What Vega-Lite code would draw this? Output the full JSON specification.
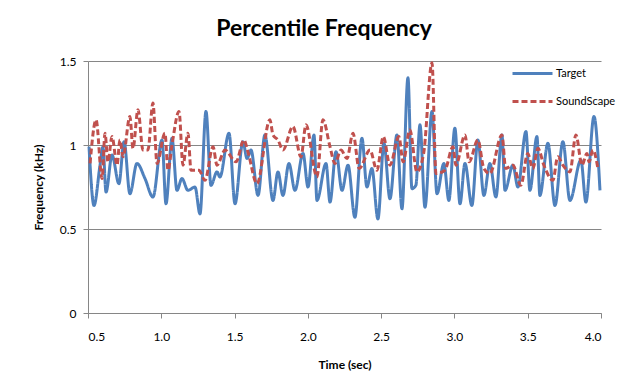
{
  "$schema": "https://vega.github.io/schema/vega-lite/v6.json",
  "autosize": "none",
  "width": 513,
  "height": 252,
  "padding": {"left": 88, "top": 61, "right": 36, "bottom": 68},
  "background": "white",
  "title": {"text": "Percentile Frequency", "font": "Lato", "fontSize": 23, "fontWeight": "bold", "color": "#000000", "anchor": "middle", "frame": "bounds", "offset": 11},
  "config": {"view": {"stroke": null}},
  "data": {"values": [
    {"t": 0.507, "v": 0.99, "series": "Target"},
    {"t": 0.541, "v": 0.64, "series": "Target"},
    {"t": 0.582, "v": 0.88, "series": "Target"},
    {"t": 0.602, "v": 0.99, "series": "Target"},
    {"t": 0.623, "v": 0.72, "series": "Target"},
    {"t": 0.664, "v": 0.94, "series": "Target"},
    {"t": 0.711, "v": 0.77, "series": "Target"},
    {"t": 0.746, "v": 1.02, "series": "Target"},
    {"t": 0.786, "v": 0.71, "series": "Target"},
    {"t": 0.834, "v": 0.89, "series": "Target"},
    {"t": 0.889, "v": 0.80, "series": "Target"},
    {"t": 0.943, "v": 0.69, "series": "Target"},
    {"t": 1.005, "v": 1.03, "series": "Target"},
    {"t": 1.032, "v": 0.65, "series": "Target"},
    {"t": 1.073, "v": 1.04, "series": "Target"},
    {"t": 1.107, "v": 0.73, "series": "Target"},
    {"t": 1.141, "v": 0.80, "series": "Target"},
    {"t": 1.182, "v": 0.73, "series": "Target"},
    {"t": 1.230, "v": 0.75, "series": "Target"},
    {"t": 1.264, "v": 0.59, "series": "Target"},
    {"t": 1.305, "v": 1.20, "series": "Target"},
    {"t": 1.339, "v": 0.76, "series": "Target"},
    {"t": 1.380, "v": 0.84, "series": "Target"},
    {"t": 1.400, "v": 0.81, "series": "Target"},
    {"t": 1.462, "v": 1.07, "series": "Target"},
    {"t": 1.503, "v": 0.65, "series": "Target"},
    {"t": 1.557, "v": 1.02, "series": "Target"},
    {"t": 1.585, "v": 0.92, "series": "Target"},
    {"t": 1.612, "v": 0.97, "series": "Target"},
    {"t": 1.660, "v": 0.70, "series": "Target"},
    {"t": 1.707, "v": 1.06, "series": "Target"},
    {"t": 1.762, "v": 0.67, "series": "Target"},
    {"t": 1.796, "v": 0.84, "series": "Target"},
    {"t": 1.830, "v": 0.70, "series": "Target"},
    {"t": 1.871, "v": 0.89, "series": "Target"},
    {"t": 1.912, "v": 0.73, "series": "Target"},
    {"t": 1.967, "v": 0.95, "series": "Target"},
    {"t": 2.001, "v": 0.75, "series": "Target"},
    {"t": 2.042, "v": 1.06, "series": "Target"},
    {"t": 2.062, "v": 0.67, "series": "Target"},
    {"t": 2.124, "v": 0.89, "series": "Target"},
    {"t": 2.151, "v": 0.66, "series": "Target"},
    {"t": 2.192, "v": 0.96, "series": "Target"},
    {"t": 2.233, "v": 0.73, "series": "Target"},
    {"t": 2.274, "v": 0.88, "series": "Target"},
    {"t": 2.321, "v": 0.57, "series": "Target"},
    {"t": 2.369, "v": 1.04, "series": "Target"},
    {"t": 2.403, "v": 0.75, "series": "Target"},
    {"t": 2.437, "v": 0.86, "series": "Target"},
    {"t": 2.478, "v": 0.56, "series": "Target"},
    {"t": 2.519, "v": 1.01, "series": "Target"},
    {"t": 2.560, "v": 0.68, "series": "Target"},
    {"t": 2.608, "v": 1.06, "series": "Target"},
    {"t": 2.642, "v": 0.62, "series": "Target"},
    {"t": 2.683, "v": 1.40, "series": "Target"},
    {"t": 2.710, "v": 0.74, "series": "Target"},
    {"t": 2.737, "v": 0.76, "series": "Target"},
    {"t": 2.765, "v": 1.12, "series": "Target"},
    {"t": 2.799, "v": 0.63, "series": "Target"},
    {"t": 2.847, "v": 1.20, "series": "Target"},
    {"t": 2.881, "v": 0.71, "series": "Target"},
    {"t": 2.928, "v": 0.89, "series": "Target"},
    {"t": 2.962, "v": 0.67, "series": "Target"},
    {"t": 3.003, "v": 1.10, "series": "Target"},
    {"t": 3.038, "v": 0.65, "series": "Target"},
    {"t": 3.072, "v": 0.89, "series": "Target"},
    {"t": 3.119, "v": 0.64, "series": "Target"},
    {"t": 3.160, "v": 1.03, "series": "Target"},
    {"t": 3.201, "v": 0.70, "series": "Target"},
    {"t": 3.242, "v": 0.89, "series": "Target"},
    {"t": 3.283, "v": 0.69, "series": "Target"},
    {"t": 3.324, "v": 1.06, "series": "Target"},
    {"t": 3.345, "v": 0.73, "series": "Target"},
    {"t": 3.399, "v": 0.88, "series": "Target"},
    {"t": 3.433, "v": 0.75, "series": "Target"},
    {"t": 3.488, "v": 1.08, "series": "Target"},
    {"t": 3.515, "v": 0.73, "series": "Target"},
    {"t": 3.563, "v": 1.05, "series": "Target"},
    {"t": 3.583, "v": 0.70, "series": "Target"},
    {"t": 3.638, "v": 1.01, "series": "Target"},
    {"t": 3.686, "v": 0.64, "series": "Target"},
    {"t": 3.740, "v": 1.02, "series": "Target"},
    {"t": 3.788, "v": 0.67, "series": "Target"},
    {"t": 3.863, "v": 0.91, "series": "Target"},
    {"t": 3.897, "v": 0.66, "series": "Target"},
    {"t": 3.952, "v": 1.17, "series": "Target"},
    {"t": 3.993, "v": 0.73, "series": "Target"},
    {"t": 0.514, "v": 0.89, "series": "SoundScape"},
    {"t": 0.555, "v": 1.15, "series": "SoundScape"},
    {"t": 0.596, "v": 0.80, "series": "SoundScape"},
    {"t": 0.616, "v": 1.07, "series": "SoundScape"},
    {"t": 0.636, "v": 0.90, "series": "SoundScape"},
    {"t": 0.664, "v": 1.05, "series": "SoundScape"},
    {"t": 0.698, "v": 0.88, "series": "SoundScape"},
    {"t": 0.718, "v": 1.03, "series": "SoundScape"},
    {"t": 0.739, "v": 0.93, "series": "SoundScape"},
    {"t": 0.786, "v": 1.17, "series": "SoundScape"},
    {"t": 0.807, "v": 0.98, "series": "SoundScape"},
    {"t": 0.841, "v": 1.21, "series": "SoundScape"},
    {"t": 0.875, "v": 0.97, "series": "SoundScape"},
    {"t": 0.909, "v": 0.97, "series": "SoundScape"},
    {"t": 0.943, "v": 1.25, "series": "SoundScape"},
    {"t": 0.971, "v": 0.89, "series": "SoundScape"},
    {"t": 1.025, "v": 1.07, "series": "SoundScape"},
    {"t": 1.046, "v": 0.85, "series": "SoundScape"},
    {"t": 1.073, "v": 1.00, "series": "SoundScape"},
    {"t": 1.121, "v": 1.20, "series": "SoundScape"},
    {"t": 1.148, "v": 0.88, "series": "SoundScape"},
    {"t": 1.182, "v": 1.07, "series": "SoundScape"},
    {"t": 1.203, "v": 0.85, "series": "SoundScape"},
    {"t": 1.257, "v": 0.85, "series": "SoundScape"},
    {"t": 1.298, "v": 0.79, "series": "SoundScape"},
    {"t": 1.353, "v": 0.99, "series": "SoundScape"},
    {"t": 1.380, "v": 0.88, "series": "SoundScape"},
    {"t": 1.435, "v": 0.97, "series": "SoundScape"},
    {"t": 1.510, "v": 0.90, "series": "SoundScape"},
    {"t": 1.564, "v": 1.03, "series": "SoundScape"},
    {"t": 1.591, "v": 0.96, "series": "SoundScape"},
    {"t": 1.653, "v": 0.77, "series": "SoundScape"},
    {"t": 1.741, "v": 1.15, "series": "SoundScape"},
    {"t": 1.762, "v": 1.06, "series": "SoundScape"},
    {"t": 1.796, "v": 1.03, "series": "SoundScape"},
    {"t": 1.830, "v": 0.97, "series": "SoundScape"},
    {"t": 1.898, "v": 1.11, "series": "SoundScape"},
    {"t": 1.953, "v": 0.93, "series": "SoundScape"},
    {"t": 1.987, "v": 1.12, "series": "SoundScape"},
    {"t": 2.062, "v": 0.81, "series": "SoundScape"},
    {"t": 2.103, "v": 1.15, "series": "SoundScape"},
    {"t": 2.151, "v": 0.99, "series": "SoundScape"},
    {"t": 2.185, "v": 0.89, "series": "SoundScape"},
    {"t": 2.226, "v": 0.97, "series": "SoundScape"},
    {"t": 2.267, "v": 0.92, "series": "SoundScape"},
    {"t": 2.308, "v": 1.07, "series": "SoundScape"},
    {"t": 2.350, "v": 0.86, "series": "SoundScape"},
    {"t": 2.424, "v": 0.97, "series": "SoundScape"},
    {"t": 2.471, "v": 0.85, "series": "SoundScape"},
    {"t": 2.515, "v": 1.05, "series": "SoundScape"},
    {"t": 2.560, "v": 0.88, "series": "SoundScape"},
    {"t": 2.621, "v": 1.05, "series": "SoundScape"},
    {"t": 2.650, "v": 0.90, "series": "SoundScape"},
    {"t": 2.696, "v": 1.09, "series": "SoundScape"},
    {"t": 2.744, "v": 0.84, "series": "SoundScape"},
    {"t": 2.790, "v": 0.95, "series": "SoundScape"},
    {"t": 2.847, "v": 1.49, "series": "SoundScape"},
    {"t": 2.874, "v": 0.83, "series": "SoundScape"},
    {"t": 2.935, "v": 0.85, "series": "SoundScape"},
    {"t": 2.990, "v": 0.99, "series": "SoundScape"},
    {"t": 3.010, "v": 0.88, "series": "SoundScape"},
    {"t": 3.072, "v": 1.06, "series": "SoundScape"},
    {"t": 3.100, "v": 0.90, "series": "SoundScape"},
    {"t": 3.160, "v": 1.03, "series": "SoundScape"},
    {"t": 3.201, "v": 0.86, "series": "SoundScape"},
    {"t": 3.242, "v": 0.83, "series": "SoundScape"},
    {"t": 3.324, "v": 1.06, "series": "SoundScape"},
    {"t": 3.350, "v": 0.86, "series": "SoundScape"},
    {"t": 3.399, "v": 0.88, "series": "SoundScape"},
    {"t": 3.453, "v": 0.76, "series": "SoundScape"},
    {"t": 3.500, "v": 0.95, "series": "SoundScape"},
    {"t": 3.535, "v": 0.86, "series": "SoundScape"},
    {"t": 3.570, "v": 0.98, "series": "SoundScape"},
    {"t": 3.610, "v": 0.88, "series": "SoundScape"},
    {"t": 3.672, "v": 0.79, "series": "SoundScape"},
    {"t": 3.705, "v": 0.93, "series": "SoundScape"},
    {"t": 3.740, "v": 0.88, "series": "SoundScape"},
    {"t": 3.788, "v": 0.84, "series": "SoundScape"},
    {"t": 3.829, "v": 1.06, "series": "SoundScape"},
    {"t": 3.870, "v": 0.88, "series": "SoundScape"},
    {"t": 3.904, "v": 0.95, "series": "SoundScape"},
    {"t": 3.918, "v": 0.90, "series": "SoundScape"},
    {"t": 3.945, "v": 0.97, "series": "SoundScape"},
    {"t": 3.979, "v": 0.86, "series": "SoundScape"}
  ]},
  "mark": {"type": "line", "interpolate": "monotone", "strokeWidth": 3},
  "encoding": {
    "x": {
      "field": "t", "type": "quantitative",
      "scale": {"domain": [0.5, 4.0], "nice": false, "zero": false},
      "axis": {
        "title": "Time (sec)", "values": [0.5, 1.0, 1.5, 2.0, 2.5, 3.0, 3.5, 4.0], "format": ".1f",
        "grid": false, "domainColor": "#868686", "tickColor": "#868686", "tickSize": 5,
        "labelFont": "Lato", "labelFontSize": 12, "labelColor": "#000000", "labelPadding": 13,
        "titleFont": "Lato", "titleFontSize": 12, "titleFontWeight": "bold", "titleColor": "#000000", "titlePadding": 17
      }
    },
    "y": {
      "field": "v", "type": "quantitative",
      "scale": {"domain": [0, 1.5], "nice": false},
      "axis": {
        "title": "Frequency (kHz)", "values": [0, 0.5, 1, 1.5], "format": "~g",
        "grid": true, "gridColor": "#868686", "gridWidth": 1,
        "domainColor": "#868686", "tickColor": "#868686", "tickSize": 5,
        "labelFont": "Lato", "labelFontSize": 12, "labelColor": "#000000", "labelPadding": 7,
        "titleFont": "Lato", "titleFontSize": 12, "titleFontWeight": "bold", "titleColor": "#000000", "titlePadding": 14
      }
    },
    "color": {
      "field": "series", "type": "nominal",
      "scale": {"domain": ["Target", "SoundScape"], "range": ["#4F81BD", "#C0504D"]},
      "legend": {
        "title": null, "orient": "none", "legendX": 423, "legendY": -9,
        "symbolType": "stroke", "symbolSize": 1600, "symbolStrokeWidth": 3,
        "labelFont": "Lato", "labelFontSize": 11, "labelColor": "#000000", "labelOffset": 2,
        "rowPadding": -19
      }
    },
    "strokeDash": {
      "field": "series", "type": "nominal",
      "scale": {"domain": ["Target", "SoundScape"], "range": [[1, 0], [6, 3]]},
      "legend": null
    },
    "order": {"field": "t", "type": "quantitative"}
  }
}
